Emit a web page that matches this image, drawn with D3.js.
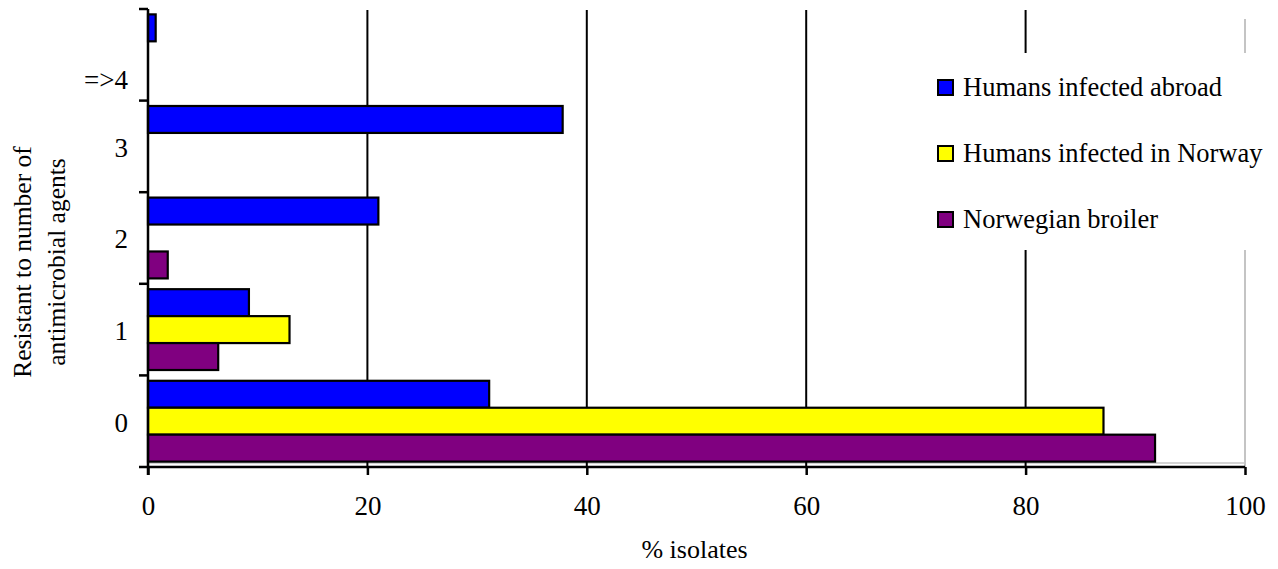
<!DOCTYPE html>
<html>
<head>
<meta charset="utf-8">
<script src="https://cdn.jsdelivr.net/npm/d3@7"></script>
<style>
  html, body { margin: 0; padding: 0; background: #fff; }
  svg { display: block; }
  svg text { font-family: "Liberation Serif", "Times New Roman", serif !important; fill: #000; }
</style>
</head>
<body>
<svg id="chart" width="1278" height="569"></svg>
<script>
// Number of antimicrobial agents resisted (top to bottom as drawn)
const categories = ["=>4", "3", "2", "1", "0"];
const seriesNames = ["Humans infected abroad", "Humans infected in Norway", "Norwegian broiler"];
const seriesColors = ["#0000ff", "#ffff00", "#800080"];

// % isolates per category, one array per series (same order as categories)
const abroad  = [0.7, 37.8, 21.0, 9.2, 31.1];
const norway  = [0,   0,    0,    12.9, 87.1];
const broiler = [0,   0,    1.8,  6.4, 91.8];
const xTicks = [0, 20, 40, 60, 80, 100];

const seriesValues = [abroad, norway, broiler];

const FONT = "Liberation Serif, Times New Roman, serif";
const svg = d3.select("#chart");
const m = { left: 148, right: 1245, top: 9, bottom: 467 };

const x = d3.scaleLinear().domain([0, 100]).range([m.left, m.right]);
const y = d3.scaleBand().domain(categories).range([m.top, m.bottom]).padding(0);
const ySub = d3.scaleBand().domain(seriesNames).range([0, y.bandwidth()])
  .paddingInner(0).paddingOuter(0.2);

// plot-area frame (light grey, right and bottom edges)
svg.append("line")
  .attr("x1", x(100)).attr("x2", x(100)).attr("y1", m.top + 10).attr("y2", m.bottom)
  .attr("stroke", "#c4c4c4").attr("stroke-width", 2);
svg.append("line")
  .attr("x1", m.left).attr("x2", x(100)).attr("y1", m.bottom - 4).attr("y2", m.bottom - 4)
  .attr("stroke", "#c4c4c4").attr("stroke-width", 1.5);

// vertical gridlines
svg.append("g").selectAll("line")
  .data(xTicks.filter(d => d > 0 && d < 100))
  .join("line")
  .attr("x1", d => x(d)).attr("x2", d => x(d))
  .attr("y1", m.top + 1).attr("y2", m.bottom)
  .attr("stroke", "#000").attr("stroke-width", 2);

// bars
const rows = [];
categories.forEach((c, i) => {
  seriesNames.forEach((s, j) => {
    rows.push({ cat: c, series: s, color: seriesColors[j], value: seriesValues[j][i] });
  });
});
svg.append("g").selectAll("rect")
  .data(rows.filter(d => d.value > 0))
  .join("rect")
  .attr("x", x(0))
  .attr("y", d => y(d.cat) + ySub(d.series))
  .attr("width", d => x(d.value) - x(0))
  .attr("height", ySub.bandwidth())
  .attr("fill", d => d.color)
  .attr("stroke", "#000").attr("stroke-width", 2.2);

// x axis
const xAxis = svg.append("g").attr("transform", `translate(0,${m.bottom})`)
  .call(d3.axisBottom(x).tickValues(xTicks).tickSize(8).tickPadding(21).tickFormat(d3.format("d")))
  .attr("font-family", FONT).attr("font-size", 27);
xAxis.select(".domain").attr("stroke", "#000").attr("stroke-width", 2.5)
  .attr("d", `M${m.left},0H${m.right}`);
xAxis.selectAll(".tick line").attr("stroke", "#000").attr("stroke-width", 2.5);
xAxis.selectAll(".tick text").style("font-family", FONT).style("font-size", "27px");

// y axis: ticks sit on the band boundaries, labels near band centres
const yAxisG = svg.append("g");
yAxisG.append("line")
  .attr("x1", m.left).attr("x2", m.left).attr("y1", m.top).attr("y2", m.bottom + 8)
  .attr("stroke", "#000").attr("stroke-width", 2.5);
const bounds = categories.map(c => y(c)).concat([m.bottom]);
yAxisG.selectAll(".ytick").data(bounds).join("line")
  .attr("x1", m.left - 9).attr("x2", m.left)
  .attr("y1", d => d).attr("y2", d => d)
  .attr("stroke", "#000").attr("stroke-width", 2.5);
yAxisG.selectAll(".ylab").data(categories).join("text")
  .attr("x", m.left - 20)
  .attr("y", (d, i) => y(d) + y.bandwidth() / 2 + (i === 0 ? 25 : 1))
  .attr("dy", "0.35em")
  .attr("text-anchor", "end")
  .style("font-size", "27px")
  .text(d => d);

// axis titles
svg.append("text")
  .attr("x", (m.left + m.right) / 2 - 2).attr("y", 558)
  .attr("text-anchor", "middle").style("font-size", "26px")
  .text("% isolates");
const yTitle = svg.append("text")
  .attr("transform", `translate(0,262) rotate(-90)`)
  .attr("text-anchor", "middle").style("font-size", "25.5px");
yTitle.append("tspan").attr("x", 0).attr("y", 31).text("Resistant to number of");
yTitle.append("tspan").attr("x", 0).attr("y", 65).text("antimicrobial agents");

// legend
const legend = svg.append("g");
legend.append("rect")
  .attr("x", 915).attr("y", 53).attr("width", 363).attr("height", 197)
  .attr("fill", "#fff");
const item = legend.selectAll(".item").data(seriesNames).join("g")
  .attr("transform", (d, i) => `translate(938,${80 + i * 66})`);
item.append("rect")
  .attr("width", 15).attr("height", 15)
  .attr("fill", (d, i) => seriesColors[i])
  .attr("stroke", "#000").attr("stroke-width", 2);
item.append("text")
  .attr("x", 25).attr("y", 16)
  .style("font-size", "26.5px")
  .text(d => d);
</script>
</body>
</html>
